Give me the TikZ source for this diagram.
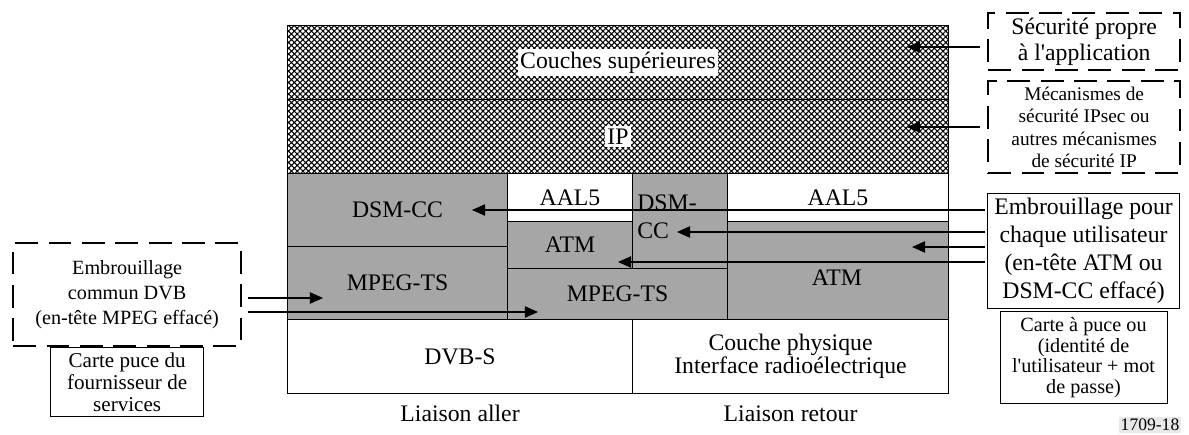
\documentclass[tikz,border=0pt]{standalone}
\usepackage{fontspec}
\setmainfont{Liberation Serif}
\usetikzlibrary{positioning,arrows.meta,patterns.meta}

\definecolor{laygray}{RGB}{166,166,166}
\definecolor{tagbg}{RGB}{232,232,232}
\newcommand{\fbig}{\fontsize{13.5}{16}\selectfont}
\newcommand{\fmid}{\fontsize{11.5}{14}\selectfont}
\newcommand{\fsmall}{\fontsize{11}{12.8}\selectfont}

\tikzset{
  sz/.style 2 args={minimum width=#1*0.02cm, minimum height=#2*0.02cm},
  layer/.style={draw, line width=0.6pt, anchor=north west, inner sep=0pt, align=center, font=\fbig},
  grey/.style={layer, fill=laygray},
  hatched/.style={layer, pattern={Hatch[angle=45,distance=2.3pt,line width=0.6pt]}},
  secbox/.style={draw, line width=1.3pt, dash pattern=on 13pt off 6pt, anchor=north west, inner sep=0pt, align=center},
  infobox/.style={draw, line width=0.6pt, anchor=north west, inner sep=0pt, align=center},
  arr/.style={line width=0.6pt, -{Triangle[length=7.5pt,width=6.5pt]}},
}

\begin{document}
\begin{tikzpicture}[x=0.02cm, y=-0.02cm]
\useasboundingbox (0,0) rectangle (1189,434);

% upper layers
\node[hatched, sz={661}{74}] (cs) at (287,25) {};
\node[hatched, sz={661}{74}] (ip) at (287,99) {};
\node[fill=white, inner sep=1.5pt, font=\fbig] (csT) at (cs) {Couches supérieures};
\node[fill=white, inner sep=1.5pt, font=\fbig] (ipT) at (ip) {IP};

% forward link stack
\node[grey, sz={220}{73}] (dsmL) at (287,173) {DSM-CC};
\node[grey, sz={220}{73}] (mpegL) at (287,246) {MPEG-TS};
\node[layer, sz={125}{48}] (aalM) at (507,173) {AAL5};
\node[grey, sz={125}{47}] (atmM) at (507,221) {ATM};
\node[grey, sz={220}{51}] (mpegM) at (507,268) {MPEG-TS};
\node[grey, sz={95}{95}] (dsmS) at (632,173) {};
\node[anchor=north west, align=left, inner sep=0pt, font=\fbig] (dsmST) at (637,194) {DSM-\\CC};

% return link stack
\node[layer, sz={221}{48}] (aalR) at (727,173) {AAL5};
\node[grey, sz={221}{98}] (atmR) at (727,221) {};
\node[font=\fbig] (atmRT) at (837,278) {ATM};

% physical layers
\node[layer, sz={345}{74}] (dvb) at (287,319) {DVB-S};
\node[layer, sz={316}{74}, font=\fontsize{13.5}{13}\selectfont] (phy) at (632,319) {Couche physique\\Interface radioélectrique};
\node[anchor=base, font=\fbig] (aller) at ([yshift=-0.54cm]dvb.south) {Liaison aller};
\node[anchor=base, font=\fbig] (retour) at ([yshift=-0.54cm]phy.south) {Liaison retour};

% security boxes
\node[secbox, sz={192}{57}, font=\fontsize{13.5}{15}\selectfont] (secApp) at (987,12) {Sécurité propre\\à l\textquotesingle application};
\node[secbox, sz={192}{92}, font=\fsmall] (secIP) at (987,80) {Mécanismes de\\sécurité IPsec ou\\autres mécanismes\\de sécurité IP};
\node[infobox, sz={192}{115}, font=\fbig] (scrU) at (987,193) {Embrouillage pour\\chaque utilisateur\\(en-tête ATM ou\\DSM-CC effacé)};
\node[infobox, sz={167}{92}, below=0.04cm of scrU, font=\fontsize{11.5}{11.8}\selectfont] (carteU) {Carte à puce ou\\(identité de\\l\textquotesingle utilisateur + mot\\de passe)};
\node[secbox, sz={228}{103}, font=\fmid] (dvbScr) at (12,242) {Embrouillage\\commun DVB\\(en-tête MPEG effacé)};
\node[infobox, sz={153}{69}, below=0pt of dvbScr, font=\fontsize{12}{12.6}\selectfont] (carteP) {Carte puce du\\fournisseur de\\services};

\node[fill=tagbg, inner sep=1pt, font=\fontsize{10}{12}\selectfont] (fig) at (1150,425) {1709-18};

% arrow targets
\coordinate (tCS) at (907,47);
\coordinate (tIP) at (907,127);
\coordinate (tDsmL) at (472,210);
\coordinate (tDsmS) at (677,232);
\coordinate (tAtmR) at (912,247);
\coordinate (tAtmM) at (618,262);
\coordinate (tMpegL) at (323,298);
\coordinate (tMpegM) at (538,312);

\draw[arr, shorten <=4pt] (secApp.west |- tCS) -- (tCS);
\draw[arr, shorten <=4pt] (secIP.west |- tIP) -- (tIP);
\draw[arr, shorten <=1pt] (scrU.west |- tDsmL) -- (tDsmL);
\draw[arr, shorten <=1pt] (scrU.west |- tDsmS) -- (tDsmS);
\draw[arr, shorten <=1pt] (scrU.west |- tAtmR) -- (tAtmR);
\draw[arr, shorten <=1pt] (scrU.west |- tAtmM) -- (tAtmM);
\draw[arr, shorten <=3pt] (dvbScr.east |- tMpegL) -- (tMpegL);
\draw[arr, shorten <=3pt] (dvbScr.east |- tMpegM) -- (tMpegM);
\end{tikzpicture}
\end{document}
